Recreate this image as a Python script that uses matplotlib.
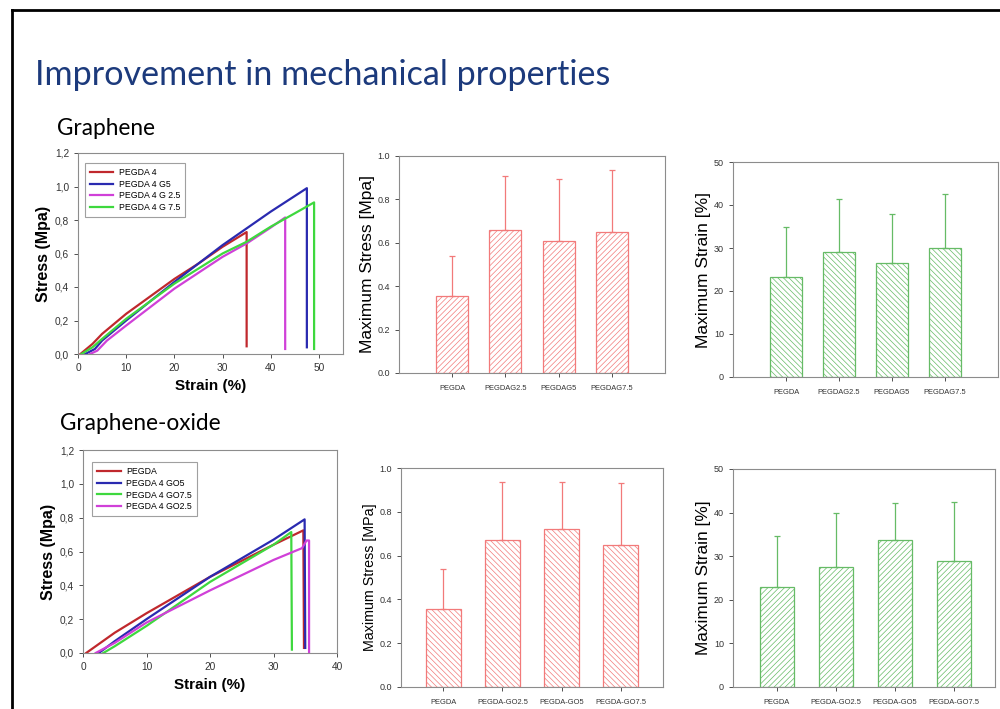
import matplotlib.pyplot as plt
import matplotlib.lines as mlines
from matplotlib.ticker import FuncFormatter
import numpy as np

plt.rcParams['font.family'] = ['Liberation Sans', 'DejaVu Sans']
plt.rcParams['hatch.linewidth'] = 0.5

# stress-strain curves, graphene (strain %, stress MPa)
g_names = ['PEGDA 4', 'PEGDA 4 G5', 'PEGDA 4 G 2.5', 'PEGDA 4 G 7.5']
g_x = [[0.5, 3, 5, 10, 20, 25, 30, 35, 35],
       [1.5, 3.5, 5, 10, 20, 30, 40, 47.5, 47.5],
       [2.5, 4, 6, 10, 20, 30, 35, 40, 43, 43],
       [0.7, 3, 5, 10, 20, 30, 35, 40, 45, 49, 49]]
g_y = [[0, 0.06, 0.12, 0.24, 0.448, 0.54, 0.64, 0.728, 0.046],
       [0, 0.03, 0.08, 0.20, 0.43, 0.65, 0.85, 0.99, 0.04],
       [0, 0.02, 0.08, 0.17, 0.39, 0.58, 0.66, 0.755, 0.815, 0.03],
       [0, 0.04, 0.09, 0.21, 0.42, 0.60, 0.67, 0.76, 0.84, 0.905, 0.03]]

# stress-strain curves, graphene oxide
go_names = ['PEGDA', 'PEGDA 4 GO5', 'PEGDA 4 GO7.5', 'PEGDA 4 GO2.5']
go_x = [[0.5, 5, 10, 20, 30, 34.7, 34.8],
        [2.5, 5, 10, 20, 30, 34.9, 35.0],
        [3.2, 5, 10, 20, 30, 32.8, 32.9],
        [2, 5, 10, 20, 30, 34.5, 35.2, 35.6, 35.6]]
go_y = [[0, 0.12, 0.235, 0.45, 0.64, 0.725, 0.03],
        [0, 0.07, 0.20, 0.45, 0.67, 0.79, 0.03],
        [0, 0.04, 0.16, 0.42, 0.64, 0.715, 0.02],
        [0, 0.06, 0.18, 0.37, 0.55, 0.62, 0.665, 0.665, 0.0]]

line_cols = ['#c0282d', '#2a2ab0', '#d040d8', '#3ed83e']
go_cols = ['#c0282d', '#2a2ab0', '#3ed83e', '#d040d8']

# bar charts
g_cats = ['PEGDA', 'PEGDAG2.5', 'PEGDAG5', 'PEGDAG7.5']
g_stress = [0.357, 0.657, 0.608, 0.648]
g_stress_err = [0.182, 0.253, 0.285, 0.289]
g_strain = [23.2, 29.1, 26.4, 30.1]
g_strain_err = [11.6, 12.4, 11.6, 12.4]

go_cats = ['PEGDA', 'PEGDA-GO2.5', 'PEGDA-GO5', 'PEGDA-GO7.5']
go_stress = [0.358, 0.672, 0.721, 0.648]
go_stress_err = [0.182, 0.263, 0.214, 0.282]
go_strain = [23.0, 27.6, 33.7, 28.9]
go_strain_err = [11.7, 12.3, 8.4, 13.6]

red = '#f27a7a'
green = '#66bb66'
spine_col = '#8c8c8c'

fig = plt.figure(figsize=(10, 7.09), dpi=100)

# slide border
fig.add_artist(mlines.Line2D([0.012, 1.0], [1 - 10/709, 1 - 10/709], color='black', lw=2))
fig.add_artist(mlines.Line2D([0.012, 0.012], [0, 1 - 10/709], color='black', lw=2))

fig.text(0.035, 1 - 85/709, 'Improvement in mechanical properties', family='Lato',
         fontsize=24.6, color='#1c3a7c', va='baseline')
fig.text(0.057, 1 - 135/709, 'Graphene', family='Lato', fontsize=16.3, va='baseline')
fig.text(0.060, 1 - 430/709, 'Graphene-oxide', family='Lato', fontsize=16.3, va='baseline')

comma = FuncFormatter(lambda v, p: ('%.1f' % v).replace('.', ','))


def style(ax):
    for s in ax.spines.values():
        s.set_color(spine_col)
        s.set_linewidth(0.8)
    ax.tick_params(colors='#333333', length=3, width=0.6)


def curve_panel(ax, xs, ys, names, cols, xmax, xticks, leg_anchor):
    for x, y, n, c in zip(xs, ys, names, cols):
        ax.plot(x, y, color=c, lw=1.6, label=n)
    ax.set_xlim(0, xmax)
    ax.set_ylim(0, 1.2)
    ax.set_xticks(xticks)
    ax.set_yticks(np.arange(0, 1.21, 0.2))
    ax.yaxis.set_major_formatter(comma)
    ax.tick_params(labelsize=7.3)
    ax.set_xlabel('Strain (%)', fontsize=11, fontweight='bold', labelpad=4)
    ax.set_ylabel('Stress (Mpa)', fontsize=11.5, fontweight='bold', labelpad=3)
    style(ax)
    leg = ax.legend(loc='upper left', bbox_to_anchor=leg_anchor, fontsize=6.3,
                    frameon=True, fancybox=False, handlelength=2.7, borderpad=0.55,
                    labelspacing=0.3, handletextpad=0.6)
    leg.get_frame().set_edgecolor('#888888')
    leg.get_frame().set_linewidth(0.8)


def bar_panel(ax, cats, vals, errs, col, hatch, ylim, yticks, ylabel, lab_size, xlim, width):
    x = np.arange(len(cats))
    ax.bar(x, vals, width=width, color='white', edgecolor=col, hatch=hatch, linewidth=0.9)
    ax.errorbar(x, vals, yerr=[np.zeros(len(vals)), errs], fmt='none', ecolor=col,
                elinewidth=0.9, capsize=2.5, capthick=0.9)
    ax.set_xlim(*xlim)
    ax.set_ylim(*ylim)
    ax.set_yticks(yticks)
    ax.set_xticks(x)
    ax.set_xticklabels(cats, fontsize=5.4)
    ax.tick_params(axis='x', length=0, pad=6)
    ax.tick_params(axis='y', labelsize=6.5)
    ax.set_ylabel(ylabel, fontsize=lab_size, labelpad=2)
    style(ax)


ax1 = fig.add_axes([0.078, 1 - 354/709, 0.265, 201/709])
curve_panel(ax1, g_x, g_y, g_names, line_cols, 55, range(0, 51, 10), (0.01, 0.97))

ax4 = fig.add_axes([0.083, 1 - 653/709, 0.254, 203/709])
curve_panel(ax4, go_x, go_y, go_names, go_cols, 40, range(0, 41, 10), (0.02, 0.96))

ax2 = fig.add_axes([0.399, 1 - 373/709, 0.266, 217/709])
bar_panel(ax2, g_cats, g_stress, g_stress_err, red, '//////', (0, 1.0),
          np.arange(0, 1.01, 0.2), 'Maximum Stress [Mpa]', 12.5, (-1, 4), 0.6)
ax2.yaxis.set_major_formatter(FuncFormatter(lambda v, p: '%.1f' % v))

ax3 = fig.add_axes([0.733, 1 - 377/709, 0.265, 215/709])
bar_panel(ax3, g_cats, g_strain, g_strain_err, green, '\\\\\\\\\\\\', (0, 50),
          range(0, 51, 10), 'Maximum Strain [%]', 12.5, (-1, 4), 0.6)

ax5 = fig.add_axes([0.401, 1 - 687/709, 0.262, 219/709])
bar_panel(ax5, go_cats, go_stress, go_stress_err, red, '\\\\\\\\\\\\', (0, 1.0),
          np.arange(0, 1.01, 0.2), 'Maximum Stress [MPa]', 10.3, (-0.72, 3.72), 0.58)
ax5.yaxis.set_major_formatter(FuncFormatter(lambda v, p: '%.1f' % v))

ax6 = fig.add_axes([0.733, 1 - 687/709, 0.262, 218/709])
bar_panel(ax6, go_cats, go_strain, go_strain_err, green, '//////', (0, 50),
          range(0, 51, 10), 'Maximum Strain [%]', 12.4, (-0.74, 3.7), 0.58)

fig.savefig('out.png', dpi=100, facecolor='white')
